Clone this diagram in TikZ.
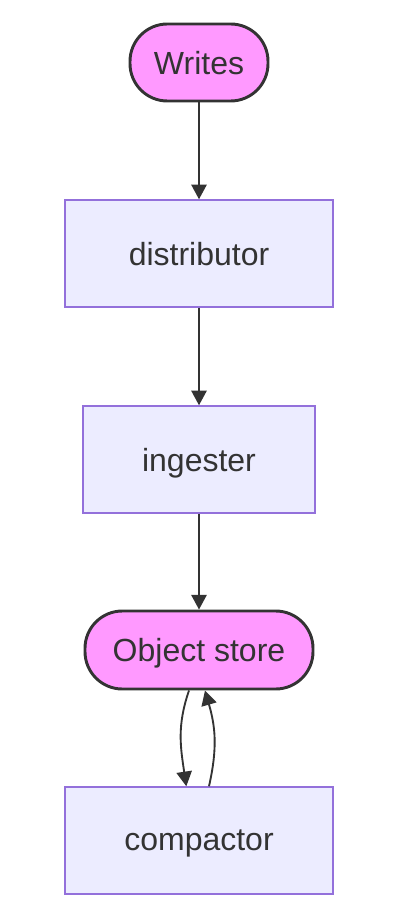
\documentclass[tikz,border=0pt]{standalone}
\usepackage{fontspec}
\setmainfont{Liberation Sans}
\usetikzlibrary{arrows.meta,calc}
\definecolor{txt}{HTML}{333333}
\definecolor{pinkfill}{HTML}{FF99FF}
\definecolor{boxfill}{HTML}{ECECFF}
\definecolor{boxline}{HTML}{9370DB}
\tikzset{
  lbl/.style={font=\fontsize{24}{28}\selectfont, text=txt, inner sep=0pt, text depth=0pt},
  stadium/.style={lbl, draw=txt, line width=2.2pt, fill=pinkfill, rounded corners=28pt},
  procbox/.style={lbl, draw=boxline, line width=1.1pt, fill=boxfill},
  edge/.style={draw=txt, line width=1.4pt, -{Triangle[length=11pt,width=11.5pt]}}
}
\begin{document}
\begin{tikzpicture}[x=0.75pt,y=-0.75pt]
\useasboundingbox (0,0) rectangle (404,916);
\node[stadium, minimum width=138*0.75pt, minimum height=77*0.75pt] (w) at (199,62.5) {Writes};
\node[procbox, minimum width=268*0.75pt, minimum height=107*0.75pt] (d) at (199,253.5) {distributor};
\node[procbox, minimum width=232*0.75pt, minimum height=107*0.75pt] (i) at (199,459.5) {ingester};
\node[stadium, minimum width=228*0.75pt, minimum height=78*0.75pt] (o) at (199,650) {Object store};
\node[procbox, minimum width=268*0.75pt, minimum height=107*0.75pt] (c) at (199,840.5) {compactor};
\draw[edge] (w) -- (d);
\draw[edge] (d) -- (i);
\draw[edge] (i) -- (o);
\draw[edge] ([xshift=-7.5pt]o.south) .. controls ($([xshift=-7.5pt]o.south)+(-12,35)$) and ($([xshift=-9.5pt]c.north)+(-6,-40)$) .. ([xshift=-9.5pt]c.north);
\draw[edge] ([xshift=7.5pt]c.north) .. controls ($([xshift=7.5pt]c.north)+(9,-40)$) and ($([xshift=4.5pt]o.south)+(10,35)$) .. ([xshift=4.5pt]o.south);
\end{tikzpicture}
\end{document}
